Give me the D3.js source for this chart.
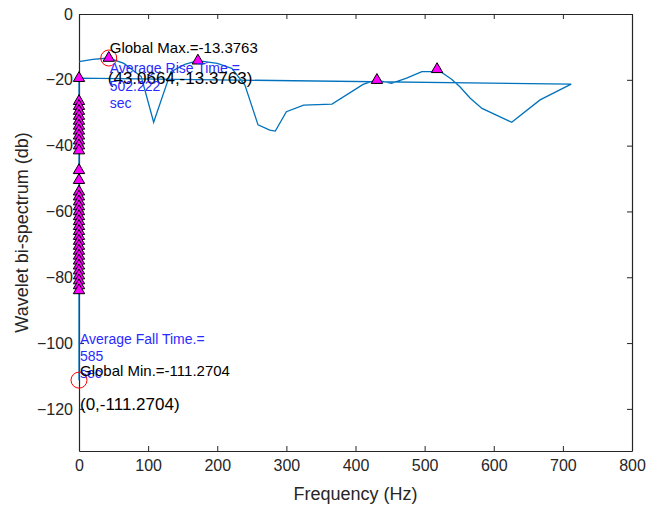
<!DOCTYPE html>
<html>
<head>
<meta charset="utf-8">
<script src="https://cdn.jsdelivr.net/npm/d3@7"></script>
<style>
  body { margin: 0; background: #fff; }
  text { font-family: "Liberation Sans", Arial, sans-serif; }
</style>
</head>
<body>
<div id="chart-area"></div>
<script>

let margin = {top: 14, right: 29, bottom: 54, left: 79};
let width = 661 - margin.left - margin.right;
let height = 505 - margin.top - margin.bottom;

// spectrum curve (Hz, db)
let curveFreq = [0, 20, 43.07, 65, 90, 108, 133, 153, 172, 200, 221, 240, 259, 276, 284, 300, 325, 366, 411, 425, 431, 452, 474, 496, 513, 518, 539, 551, 566, 583, 626, 667, 712];
let curveDb = [-14.5, -13.8, -13.38, -15, -19, -32.9, -17.5, -15.3, -14.2, -15, -16.5, -21.6, -33.7, -35.3, -35.6, -29.7, -27.7, -27.4, -21.4, -20.4, -20.1, -21.1, -19.5, -17.5, -17.5, -16.8, -19.8, -22.1, -25.6, -28.7, -32.9, -26.1, -21.3];

// line returns to zero frequency and runs down the axis
let tailFreq = [0, 0];
let tailDb = [-19.5, -111.2704];

// triangle markers at zero frequency
let zeroPeaks = [-19.5, -26.5, -28, -29.5, -31, -32.5, -34, -35.5, -37, -38.5, -40, -41.5, -47.5, -50.5, -54, -55.5, -57, -58.5, -60, -61.5, -63, -64.5, -66, -67.5, -69, -70.5, -72, -73.5, -75, -76.5, -78, -79.5, -81, -82.5, -84];

// other triangle markers
let peakFreq = [43.07, 172, 431, 518];
let peakDb = [-13.38, -14.2, -20.1, -16.8];

// global max / min
let extremes = [{f: 43.0664, db: -13.3763}, {f: 0, db: -111.2704}];

let xTicks = [0, 100, 200, 300, 400, 500, 600, 700, 800];
let yTicks = [-120, -100, -80, -60, -40, -20, 0];

let svg = d3.select("#chart-area").append("svg")
    .attr("width", width + margin.left + margin.right)
    .attr("height", height + margin.top + margin.bottom)
    .append("g")
    .attr("transform", "translate(" + margin.left + "," + margin.top + ")");

let x = d3.scaleLinear().domain([0, 800]).range([0, width]);
let y = d3.scaleLinear().domain([-132.8, 0]).range([height, 0]);

// box + ticks (inside, MATLAB style)
let axisColor = "#262626";
function styleAxis(g) {
    g.selectAll("path").attr("stroke", axisColor);
    g.selectAll("line").attr("stroke", axisColor);
    g.selectAll("text").attr("fill", axisColor).style("font-size", "16px");
}

svg.append("g").attr("transform", "translate(0," + height + ")")
    .call(d3.axisBottom(x).tickValues(xTicks).tickSizeInner(-5).tickSizeOuter(0).tickPadding(9))
    .call(styleAxis);
svg.append("g")
    .call(d3.axisLeft(y).tickValues(yTicks).tickSizeInner(-5).tickSizeOuter(0).tickPadding(6))
    .call(styleAxis);
svg.append("g")
    .call(d3.axisTop(x).tickValues(xTicks).tickSizeInner(-5).tickSizeOuter(0).tickFormat(""))
    .call(styleAxis);
svg.append("g").attr("transform", "translate(" + width + ",0)")
    .call(d3.axisRight(y).tickValues(yTicks).tickSizeInner(-5).tickSizeOuter(0).tickFormat(""))
    .call(styleAxis);
svg.selectAll(".domain").attr("stroke-width", 1.2);

// axis labels
svg.append("text")
    .attr("x", width / 2)
    .attr("y", height + 49)
    .attr("text-anchor", "middle")
    .attr("fill", axisColor)
    .style("font-size", "18px")
    .text("Frequency (Hz)");

svg.append("text")
    .attr("transform", "translate(" + (-51) + "," + (height / 2) + ") rotate(-90)")
    .attr("text-anchor", "middle")
    .attr("fill", axisColor)
    .style("font-size", "18px")
    .text("Wavelet bi-spectrum (db)");

// blue line
let lineData = curveFreq.map((f, i) => ({f: f, db: curveDb[i]}))
    .concat(tailFreq.map((f, i) => ({f: f, db: tailDb[i]})));

let line = d3.line()
    .x(d => x(d.f))
    .y(d => y(d.db));

svg.append("path")
    .datum(lineData)
    .attr("d", line)
    .attr("fill", "none")
    .attr("stroke", "#0072BD")
    .attr("stroke-width", 1.3);

// triangle markers
let markData = zeroPeaks.map(db => ({f: 0, db: db}))
    .concat(peakFreq.map((f, i) => ({f: f, db: peakDb[i]})));

let tri = d3.symbol().type(d3.symbolTriangle).size(56);

svg.selectAll(".peak")
    .data(markData)
    .enter().append("path")
    .attr("class", "peak")
    .attr("d", tri)
    .attr("transform", d => "translate(" + x(d.f) + "," + y(d.db) + ")")
    .attr("fill", "#ff00ff")
    .attr("stroke", "#000")
    .attr("stroke-width", 1);

// red circles on extremes
svg.selectAll(".ext")
    .data(extremes)
    .enter().append("circle")
    .attr("class", "ext")
    .attr("cx", d => x(d.f))
    .attr("cy", d => y(d.db))
    .attr("r", 8)
    .attr("fill", "none")
    .attr("stroke", "#ff0000")
    .attr("stroke-width", 1);

// annotations
let blue = "#2a2aff";
function note(px, py, txt, color, size) {
    svg.append("text")
        .attr("x", px)
        .attr("y", py)
        .attr("dy", "0.35em")
        .attr("fill", color)
        .style("font-size", size + "px")
        .text(txt);
}

let mx = x(extremes[0].f), my = y(extremes[0].db);
note(mx + 1, my - 10, "Global Max.=-13.3763", "#000", 15);
note(mx + 1, my + 10, "Average Rise Time =", blue, 14);
note(mx - 1, my + 20, "(43.0664,-13.3763)", "#000", 17);
note(mx + 1, my + 28, "502.222", blue, 14);
note(mx + 1, my + 45, "sec", blue, 14);

let nx = x(extremes[1].f), ny = y(extremes[1].db);
note(nx + 1, ny - 41, "Average Fall Time.=", blue, 14);
note(nx + 1, ny - 24, "585", blue, 14);
note(nx + 1, ny - 7, "sec", blue, 14);
note(nx + 1, ny - 9, "Global Min.=-111.2704", "#000", 15);
note(nx + 1, ny + 24, "(0,-111.2704)", "#000", 17);

</script>
</body>
</html>
